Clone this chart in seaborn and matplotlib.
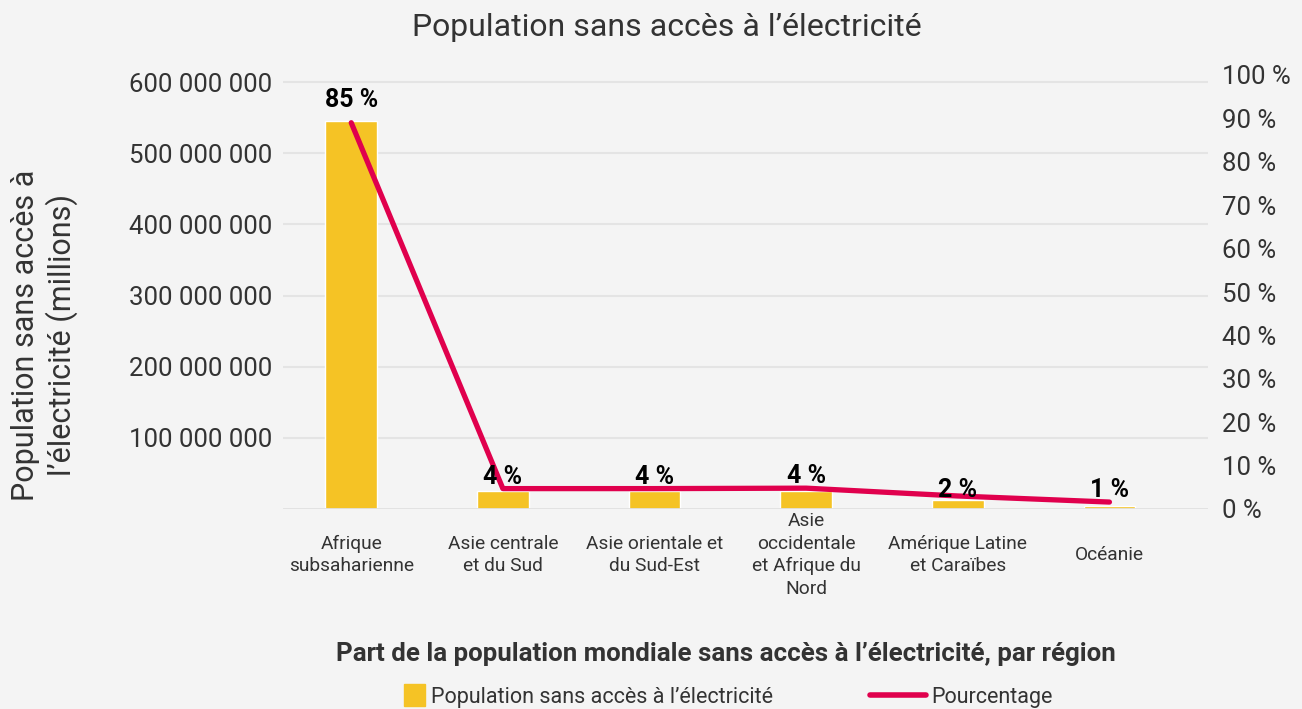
import matplotlib
matplotlib.use("Agg")
import matplotlib.pyplot as plt
from matplotlib.lines import Line2D
from matplotlib.patches import Rectangle, Patch
from matplotlib.legend_handler import HandlerPatch
from matplotlib.ticker import FuncFormatter
import seaborn as sns
import pandas as pd
import numpy as np

regions = ["Afrique\nsubsaharienne", "Asie centrale\net du Sud", "Asie orientale et\ndu Sud-Est",
           "Asie\noccidentale\net Afrique du\nNord", "Amérique Latine\net Caraïbes", "Océanie"]
population = [545e6, 25e6, 25e6, 25e6, 12.5e6, 4.5e6]
line_pct = [0.89, 0.047, 0.047, 0.048, 0.030, 0.016]
labels_pct = ["85 %", "4 %", "4 %", "4 %", "2 %", "1 %"]
left_ticks = [100e6, 200e6, 300e6, 400e6, 500e6, 600e6]
right_ticks = [0, 0.1, 0.2, 0.3, 0.4, 0.5, 0.6, 0.7, 0.8, 0.9, 1.0]

BG = "#f4f4f4"
BAR = "#f5c325"
LINE = "#e0004d"
TXT = "#333333"
label_offsets = [8, 0, 0, 0, -4, 0]

sns.set_theme(style="white")
plt.rcParams["font.family"] = ["Roboto", "DejaVu Sans"]

df = pd.DataFrame({"region": regions, "population": population, "pct": line_pct})

fig = plt.figure(figsize=(13.02, 7.09), dpi=100, facecolor=BG)
ax = fig.add_axes([283/1302, 1-509/709, 925/1302, 434/709])
ax.set_facecolor(BG)

sns.barplot(data=df, x="region", y="population", color=BAR, width=0.34, ax=ax, saturation=1)
ax.set_ylim(0, 610e6)
ax.set_yticks(left_ticks)
ax.yaxis.set_major_formatter(FuncFormatter(lambda v, p: f"{int(v):,}".replace(",", " ")))
ax.grid(axis="y", color="#e4e4e4", linewidth=1.5)
ax.set_axisbelow(True)
for s in ax.spines.values():
    s.set_visible(False)
ax.axhline(0, color="#e0e0e0", linewidth=2, zorder=1)
ax.tick_params(axis="y", length=0, labelsize=18.5, labelcolor=TXT, pad=8)
ax.tick_params(axis="x", length=0, labelsize=13.8, labelcolor=TXT, pad=33)
for t in ax.get_xticklabels():
    t.set_verticalalignment("center")
    t.set_multialignment("center")
    t.set_linespacing(1.32)
ax.set_xlim(-0.45, 5.65)
ax.set_xlabel("Part de la population mondiale sans accès à l’électricité, par région",
              fontsize=18.6, fontweight="bold", color=TXT)
ax.xaxis.set_label_coords(0.479, -0.307)
ax.set_ylabel("Population sans accès à\nl’électricité (millions)", fontsize=22, color=TXT)
ax.yaxis.set_label_coords(-0.222, 0.4)

ax2 = ax.twinx()
sns.lineplot(data=df, x="region", y="pct", color=LINE, linewidth=3.8, ax=ax2, sort=False)
ax2.set_ylim(0, 1.0)
ax2.set_yticks(right_ticks)
ax2.yaxis.set_major_formatter(FuncFormatter(lambda v, p: f"{int(round(v*100))} %"))
ax2.tick_params(axis="y", length=0, labelsize=18.5, labelcolor=TXT, pad=10)
ax2.set_ylabel("")
for s in ax2.spines.values():
    s.set_visible(False)
ax2.set_xlim(-0.45, 5.65)

for i, (v, lab) in enumerate(zip(line_pct, labels_pct)):
    ax2.annotate(lab, (i, v), xytext=(0, label_offsets[i]), textcoords="offset points",
                 ha="center", va="bottom", fontsize=18, fontweight="bold", color="black")

fig.suptitle("Population sans accès à l’électricité", x=0.512, y=0.982, fontsize=23, color=TXT)


def make_square(legend, orig_handle, xdescent, ydescent, width, height, fontsize):
    s = height * 1.45
    return Rectangle((-xdescent + width - s, -ydescent + (height - s) / 2), s, s)


handles = [Patch(color=BAR), Line2D([], [], color=LINE, linewidth=4)]
leg = fig.legend(handles, ["Population sans accès à l’électricité", "Pourcentage"],
                 loc="center", bbox_to_anchor=(711/1302, 1-697/709), ncol=2, frameon=False,
                 fontsize=15.5, handlelength=2.6, columnspacing=4.5, handletextpad=0.25,
                 handler_map={Patch: HandlerPatch(patch_func=make_square)})
for t in leg.get_texts():
    t.set_color(TXT)

fig.savefig("out.png", dpi=100, facecolor=BG)
